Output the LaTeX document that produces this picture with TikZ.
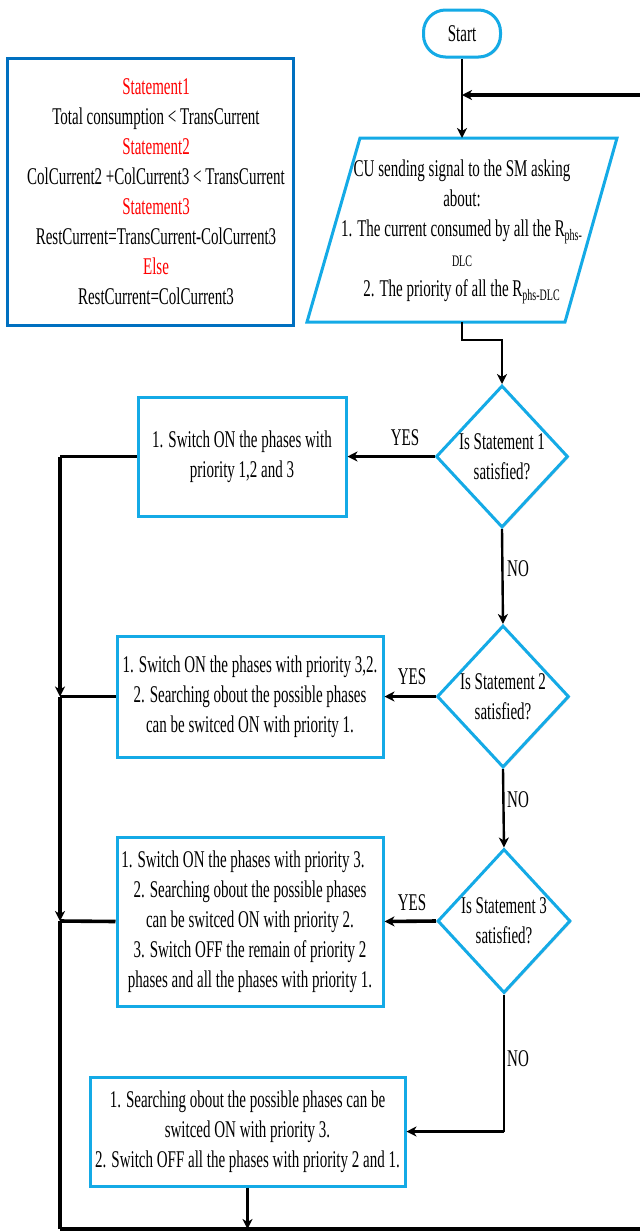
\documentclass[tikz,border=0pt]{standalone}
\usepackage{fontspec}
\setmainfont[FakeStretch=0.625]{Liberation Serif}
\usetikzlibrary{shapes.geometric,arrows.meta,shadows,calc}
\definecolor{lblue}{RGB}{20,170,230}
\definecolor{dblue}{RGB}{0,112,192}
\definecolor{sred}{RGB}{255,0,0}
\begin{document}
\begin{tikzpicture}[x=0.5pt,y=-0.5pt,
  font=\fontsize{12}{15}\selectfont,
  shd/.style={drop shadow={opacity=0.25,shadow xshift=0.7pt,shadow yshift=-0.7pt}},
  flowbox/.style={draw=lblue, line width=1.5pt, fill=white, align=center, inner sep=2pt, shd},
  dec/.style={diamond, draw=lblue, line width=1.5pt, fill=white, align=center, inner sep=-4pt, shd},
  termbox/.style={draw=lblue, line width=1.5pt, fill=white, rounded corners=11pt, shd},
  conn/.style={line width=1.2pt},
  conntk/.style={line width=1.8pt},
  tip/.style={-{Stealth[length=5pt,width=5pt,inset=1.5pt]}},
  lbl/.style={inner sep=0pt}
]
\useasboundingbox (0,0) rectangle (639,1232);

% legend
\node[draw=dblue, line width=1.5pt, minimum width=143pt, minimum height=133.5pt] (legend) at (150,191.5) {};
\node[align=center] (legendtext) at (156,191.5) {\textcolor{sred}{Statement1}\\
Total consumption < TransCurrent\\
\textcolor{sred}{Statement2}\\
ColCurrent2 +ColCurrent3 < TransCurrent\\
\textcolor{sred}{Statement3}\\
RestCurrent=TransCurrent-ColCurrent3\\
\textcolor{sred}{Else}\\
RestCurrent=ColCurrent3};

% start
\node[termbox, minimum width=38.5pt, minimum height=23.5pt] (start) at (462,33.5) {Start};

% parallelogram
\coordinate (ioA) at (360,138);
\coordinate (ioB) at (617,138);
\coordinate (ioC) at (565,322);
\coordinate (ioD) at (307,322);
\draw[draw=lblue, line width=1.5pt, fill=white] (ioA) -- (ioB) -- (ioC) -- (ioD) -- cycle;
\coordinate (iotop) at (462,138);
\coordinate (iobot) at (462,322);
\node[align=center] (io) at (462,232) {CU sending signal to the SM asking\\
about:\\
1. The current consumed by all the R\textsubscript{phs-}\\
{\fontsize{8}{10}\selectfont DLC}\\
2. The priority of all the R\textsubscript{phs-DLC}};

% decisions
\node[dec, minimum width=66pt, minimum height=71pt] (d1) at (502,456.5) {Is Statement 1\\satisfied?};
\node[dec, minimum width=66pt, minimum height=71pt] (d2) at (503,696.5) {Is Statement 2\\satisfied?};
\node[dec, minimum width=66.5pt, minimum height=72pt] (d3) at (504,921) {Is Statement 3\\satisfied?};

% action boxes
\node[flowbox, minimum width=104pt, minimum height=59.5pt] (b1) at (242,456.5) {1. Switch ON the phases with\\priority 1,2 and 3};
\node[flowbox, minimum width=133pt, minimum height=60.5pt] (b2) at (250,696.5) {1. Switch ON the phases with priority 3,2.\\
2. Searching obout the possible phases\\
can be switced ON with priority 1.};
\node[flowbox, minimum width=133pt, minimum height=84.5pt] (b3) at (250,921.5) {1. Switch ON the phases with priority 3.\hphantom{ab}\\
2. Searching obout the possible phases\\
can be switced ON with priority 2.\\
3. Switch OFF the remain of priority 2\\
phases and all the phases with priority 1.};
\node[flowbox, minimum width=157.5pt, minimum height=54.5pt] (b4) at (247.5,1131.5) {1. Searching obout the possible phases can be\\
switced ON with priority 3.\\
2. Switch OFF all the phases with priority 2 and 1.};

% labels
\node[lbl] (yes1) at (405,438) {YES};
\node[lbl] (no1) at (518,569) {NO};
\node[lbl] (yes2) at (412,677) {YES};
\node[lbl] (no2) at (518,800) {NO};
\node[lbl] (yes3) at (412,903) {YES};
\node[lbl] (no3) at (518,1059) {NO};

% helper coordinates
\coordinate (merge) at (462,95);
\coordinate (L1) at (60,456.5);
\coordinate (L2) at (60,696.5);
\coordinate (L3) at (60,921);
\coordinate (L4) at (60,1229);
\coordinate (R4) at (670,1229);
\coordinate (R0) at (670,95);
\coordinate (c3) at (d3.south |- b4.east);

% connectors
\draw[conn, tip] (start.south) -- (iotop);
\draw[conntk] (R4) -- (R0);
\draw[conntk, tip] (R0) -- (merge);
\draw[conn, tip] (iobot) -- (462,340) -| (d1.north);
\draw[conntk, tip] (d1.west) -- (b1.east);
\draw[conn, tip] (d1.south) -- (d2.north);
\draw[conntk, tip] (d2.west) -- (b2.east);
\draw[conn, tip] (d2.south) -- (d3.north);
\draw[conntk, tip] (d3.west) -- (b3.east);
\draw[conn] (d3.south) -- (c3);
\draw[conntk, tip] (c3) -- (b4.east);
\draw[conntk] (b1.west) -- (L1);
\draw[conntk, tip] (L1) -- (L2);
\draw[conntk] (b2.west) -- (L2);
\draw[conntk, tip] (L2) -- (L3);
\draw[conntk] (b3.west) -- (L3);
\draw[conntk] (L3) -- (L4);
\draw[conntk] (L4) -- (R4);
\draw[conn, tip] (b4.south) -- (b4.south |- L4);
\end{tikzpicture}
\end{document}
